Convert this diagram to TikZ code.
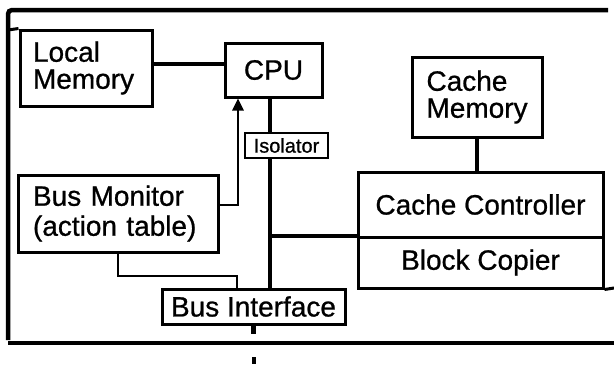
\documentclass[tikz,border=0pt]{standalone}
\usepackage{fontspec}
\setmainfont{Liberation Sans}[UprightFeatures={FakeBold=0.8}]
\usetikzlibrary{arrows.meta}
\begin{document}
\begin{tikzpicture}[x=1pt,y=-1pt,
  box/.style={draw, line width=3pt, inner sep=0pt},
  big/.style={font=\fontsize{28}{27}\selectfont},
  heavy/.style={line width=4.5pt},
  light/.style={line width=2.5pt},
  frameline/.style={line width=4.5pt}]
\useasboundingbox (0,0) rectangle (614,367);

% boxes
\node[box, big, minimum width=132pt, minimum height=76pt, align=left, text width=106pt] (LM) at (86,68) {Local\\Memory};
\node[box, big, minimum width=97pt, minimum height=54pt] (CPU) at (273.5,70) {CPU};
\node[box, line width=2.5pt, font=\fontsize{20}{22}\selectfont, minimum width=83pt, minimum height=25pt] (ISO) at (286.5,145.5) {Isolator};
\node[box, big, minimum width=130pt, minimum height=80pt, align=left, text width=101pt] (CM) at (477,97) {Cache\\Memory};
\node[box, big, minimum width=245pt, minimum height=65pt] (CC) at (480.5,204.5) {Cache Controller};
\node[box, big, minimum width=245pt, minimum height=51pt] (BC) at (480.5,262.5) {Block Copier};
\node[box, font=\fontsize{28}{30}\selectfont, minimum width=200pt, minimum height=77pt, align=left, text width=170pt] (BM) at (118,213.5) {Bus Monitor\\(action table)};
\node[box, big, minimum width=183pt, minimum height=35pt] (BI) at (253.5,306.5) {Bus Interface};

% frame
\draw[frameline, rounded corners=4pt] (8,340) -- (8,10) -- (608,10);
\draw[frameline] (8,343) -- (614,343);
\draw[box] (8,30) -- (LM.north west);
\draw[box] (BC.south east) -- (614,288);

% helper coordinates
\coordinate (lmy) at (0,64);
\coordinate (arrx) at (238,205);
\coordinate (busx) at (270,236);
\coordinate (bmx) at (118,276);
\coordinate (bix) at (237,276);
\coordinate (stub) at (253.5,334);
\coordinate (mk1) at (253.5,357);
\coordinate (mk2) at (253.5,364);

% connectors
\draw[heavy] (LM.east |- lmy) -- (CPU.west |- lmy);
\draw[light, -{Triangle[length=12pt,width=11pt]}] (BM.east |- arrx) -- (arrx) -- (arrx |- CPU.south);
\draw[heavy] (busx |- CPU.south) -- (busx |- ISO.north);
\draw[heavy] (busx |- ISO.south) -- (busx |- BI.north);
\draw[heavy] (busx) -- (busx -| CC.south west);
\draw[heavy] (CM.south) -- (CM.south |- CC.north);
\draw[light] (BM.south) -- (bmx) -- (bix) -- (bix |- BI.north);
\draw[heavy] (BI.south) -- (stub);
\draw[line width=4pt] (mk1) -- (mk2);
\end{tikzpicture}
\end{document}
